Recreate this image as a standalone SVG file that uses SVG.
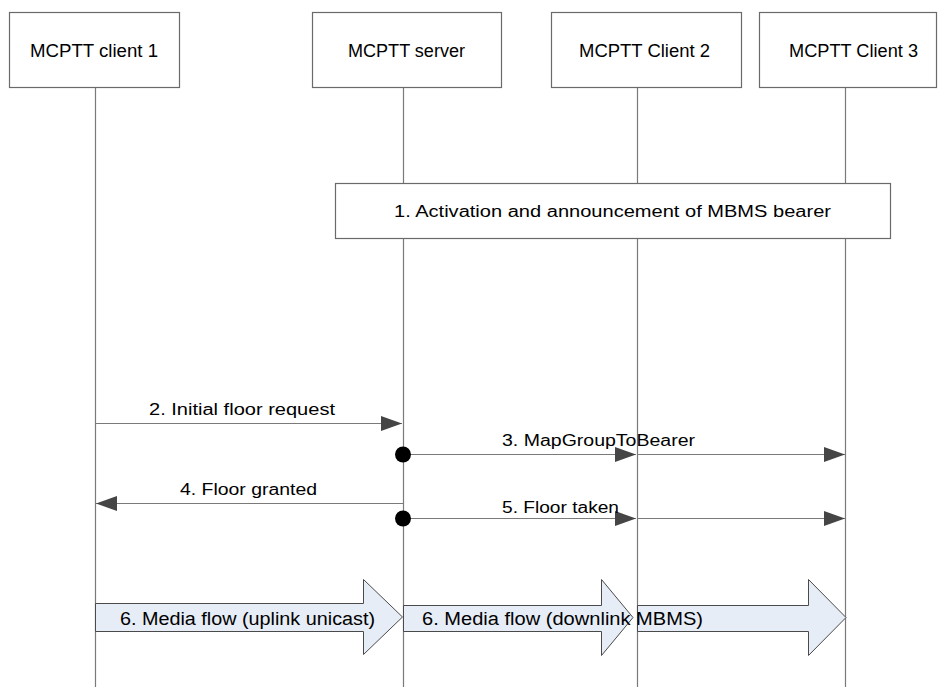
<svg xmlns="http://www.w3.org/2000/svg" width="938" height="687" viewBox="0 0 938 687">
<style>
text{font-family:"Liberation Sans",Arial,sans-serif;fill:#000}
.box{fill:#fff;stroke:#6a6a6a;stroke-width:1.2}
.life{stroke:#7a7a7a;stroke-width:1.2;fill:none}
.msg{stroke:#7a7a7a;stroke-width:1.2;fill:none}
.blk{fill:#e6edf7;stroke:#4a4a4a;stroke-width:1}
.lbl{font-size:18px}
.m{font-size:16px}
</style>
<defs>
<marker id="ah" markerUnits="userSpaceOnUse" markerWidth="22" markerHeight="16" viewBox="0 0 22 16" refX="21" refY="8" orient="auto">
<path d="M0,0.5 L21,8 L0,15.5 Z" fill="#454545"/>
</marker>
</defs>
<g id="lifelines">
<line class="life" x1="95.5" y1="87" x2="95.5" y2="687"/>
<line class="life" x1="403.5" y1="87" x2="403.5" y2="687"/>
<line class="life" x1="637.5" y1="87" x2="637.5" y2="687"/>
<line class="life" x1="845.5" y1="87" x2="845.5" y2="687"/>
</g>
<g id="client1"><rect class="box" x="9.5" y="12.5" width="170" height="75"/><text class="lbl" x="30" y="57" textLength="128" lengthAdjust="spacingAndGlyphs">MCPTT client 1</text></g>
<g id="server"><rect class="box" x="312.5" y="12.5" width="189" height="75"/><text class="lbl" x="348" y="57" textLength="117" lengthAdjust="spacingAndGlyphs">MCPTT server</text></g>
<g id="client2"><rect class="box" x="551.5" y="12.5" width="190" height="75"/><text class="lbl" x="579" y="57" textLength="131" lengthAdjust="spacingAndGlyphs">MCPTT Client 2</text></g>
<g id="client3"><rect class="box" x="759.5" y="12.5" width="177" height="75"/><text class="lbl" x="789" y="57" textLength="129" lengthAdjust="spacingAndGlyphs">MCPTT Client 3</text></g>
<g id="step1"><rect class="box" x="335.5" y="183.5" width="555" height="55"/><text x="394" y="217" font-size="16" textLength="437" lengthAdjust="spacingAndGlyphs">1.  Activation and announcement of MBMS  bearer</text></g>
<g id="connectors">
<line class="msg" x1="95.5" y1="423.5" x2="402" y2="423.5" marker-end="url(#ah)"/>
<text class="m" x="149" y="415" textLength="186" lengthAdjust="spacingAndGlyphs">2. Initial floor request</text>
<line class="msg" x1="403.5" y1="454.5" x2="636" y2="454.5" marker-end="url(#ah)"/>
<line class="msg" x1="637.5" y1="454.5" x2="845" y2="454.5" marker-end="url(#ah)"/>
<circle cx="403" cy="454.5" r="8" fill="#000"/>
<text class="m" x="502" y="446" textLength="193" lengthAdjust="spacingAndGlyphs">3. MapGroupToBearer</text>
<line class="msg" x1="403.5" y1="503.5" x2="96" y2="503.5" marker-end="url(#ah)"/>
<text class="m" x="180" y="495" textLength="137" lengthAdjust="spacingAndGlyphs">4. Floor granted</text>
<line class="msg" x1="403.5" y1="518.5" x2="636" y2="518.5" marker-end="url(#ah)"/>
<line class="msg" x1="637.5" y1="518.5" x2="845" y2="518.5" marker-end="url(#ah)"/>
<circle cx="403" cy="518.5" r="8" fill="#000"/>
<text class="m" x="502" y="513" textLength="117" lengthAdjust="spacingAndGlyphs">5. Floor taken</text>
</g>
<g id="step6">
<polygon class="blk" points="95.5,603.5 363.5,603.5 363.5,579.5 402.5,617 363.5,654.5 363.5,631.5 95.5,631.5"/>
<polygon class="blk" points="637.5,605.5 808.5,605.5 808.5,579.5 846,617.5 808.5,655.5 808.5,631.5 637.5,631.5"/>
<polygon class="blk" points="403.5,605.5 601.5,605.5 601.5,579.5 633,617.5 601.5,655.5 601.5,631.5 403.5,631.5"/>
<text x="120" y="625" font-size="18" textLength="255" lengthAdjust="spacingAndGlyphs">6. Media flow (uplink unicast)</text>
<text x="422" y="625" font-size="18" textLength="281" lengthAdjust="spacingAndGlyphs">6. Media flow (downlink  MBMS)</text>
</g>
</svg>
